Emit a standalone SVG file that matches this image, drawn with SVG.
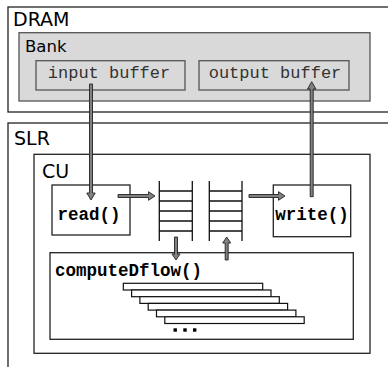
<svg xmlns="http://www.w3.org/2000/svg" width="388" height="367" viewBox="0 0 388 367">
<style>
.box{fill:#fff;stroke:#222;stroke-width:1.3}
.gbox{fill:#d9d9d9;stroke:#555;stroke-width:1.3}
.lbl{font-family:"DejaVu Sans",sans-serif;fill:#000}
.mono{font-family:"Liberation Mono","Courier New",monospace;font-size:17px;fill:#333}
.bmono{font-family:"Liberation Mono","Courier New",monospace;font-size:17.5px;font-weight:bold;fill:#000}
.arr{fill:#808080;stroke:#222;stroke-width:0.9;stroke-linejoin:miter}
.ln{stroke:#111;stroke-width:1.3;fill:none}
.bar{fill:#fff;stroke:#111;stroke-width:1.2}
</style>
<g id="dram">
<rect class="box" x="8" y="7" width="400" height="105"/>
<text class="lbl" x="13" y="26" font-size="19">DRAM</text>
</g>
<g id="bank">
<rect class="gbox" x="19" y="32.7" width="351" height="68.3"/>
<text class="lbl" x="25" y="52" font-size="16.5">Bank</text>
</g>
<g id="input-buffer">
<rect class="gbox" x="36" y="60.7" width="149" height="29.3"/>
<text class="mono" x="109" y="78" text-anchor="middle">input buffer</text>
</g>
<g id="output-buffer">
<rect class="gbox" x="199" y="60.7" width="150" height="29.3"/>
<text class="mono" x="275" y="78" text-anchor="middle">output buffer</text>
</g>
<g id="slr">
<rect class="box" x="8" y="123" width="400" height="260"/>
<text class="lbl" x="14" y="145" font-size="19">SLR</text>
</g>
<g id="cu">
<rect class="box" x="34" y="154.3" width="336" height="199"/>
<text class="lbl" x="42" y="178" font-size="19">CU</text>
</g>
<g id="read">
<rect class="box" x="52" y="185" width="78" height="50"/>
<text class="bmono" x="89" y="220" text-anchor="middle">read()</text>
</g>
<g id="write">
<rect class="box" x="273.3" y="185" width="77.4" height="51.7"/>
<text class="bmono" x="312" y="220" text-anchor="middle">write()</text>
</g>
<g id="fifo-in">
<path class="ln" d="M159.3,181V241M192.3,181V241M159.3,191H192.3M159.3,201H192.3M159.3,211H192.3M159.3,221H192.3M159.3,231H192.3"/>
</g>
<g id="fifo-out">
<path class="ln" d="M209.3,181V241M242,181V241M209.3,191H242M209.3,201H242M209.3,211H242M209.3,221H242M209.3,231H242"/>
</g>
<g id="computeDflow">
<rect class="box" x="50" y="252.7" width="303.3" height="86.6"/>
<text class="bmono" x="55" y="276">computeDflow()</text>
<rect class="bar" x="123.3" y="283.3" width="139.4" height="6.7"/>
<rect class="bar" x="131.6" y="290" width="139.4" height="6.7"/>
<rect class="bar" x="139.9" y="296.7" width="139.4" height="6.7"/>
<rect class="bar" x="148.2" y="303.4" width="139.4" height="6.7"/>
<rect class="bar" x="156.5" y="310.1" width="139.4" height="6.7"/>
<rect class="bar" x="164.8" y="316.8" width="139.4" height="6.7"/>
<rect x="173.5" y="328.3" width="3.4" height="3.4" fill="#000"/>
<rect x="183.3" y="328.3" width="3.4" height="3.4" fill="#000"/>
<rect x="193" y="328.3" width="3.4" height="3.4" fill="#000"/>
</g>
<g id="connectors">
<path class="arr" d="M89.5,84H92.5V193H95.2L91,200L86.8,193H89.5Z"/>
<path class="arr" d="M310.2,196.7H313.2V89H315.9L311.7,81.7L307.5,89H310.2Z"/>
<path class="arr" d="M118,194.5V197.5H148.5V200.3L155,196L148.5,191.7V194.5Z"/>
<path class="arr" d="M249,194.5V197.5H278.5V200.3L285,196L278.5,191.7V194.5Z"/>
<path class="arr" d="M174.5,237H177.5V254H180L176,260L172,254H174.5Z"/>
<path class="arr" d="M225.2,260H228.2V243H230.7L226.7,237L222.7,243H225.2Z"/>
</g>
</svg>
